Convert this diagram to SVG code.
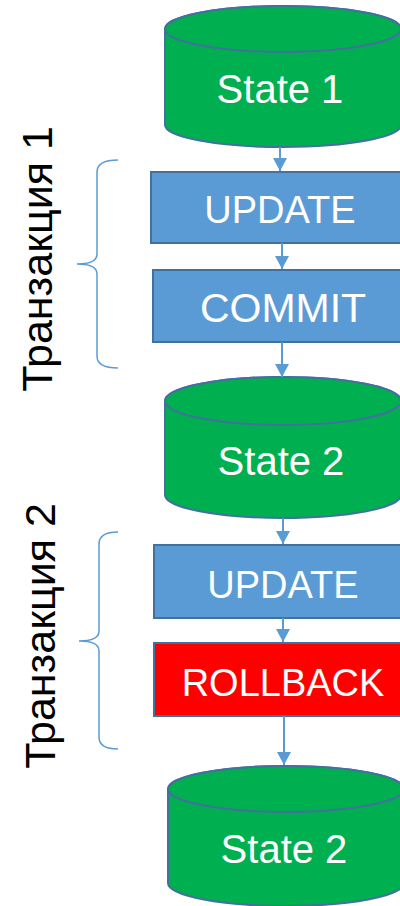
<svg xmlns="http://www.w3.org/2000/svg" width="400" height="906" viewBox="0 0 400 906">
  <style>
    .cyl { fill: #00b050; stroke: #41719c; stroke-width: 2; }
    .box { fill: #5b9bd5; stroke: #41719c; stroke-width: 2; }
    .red { fill: #ff0000; stroke: #41719c; stroke-width: 2; }
    .lbl { font-family: "Liberation Sans", Arial, sans-serif; font-size: 40px; fill: #ffffff; text-anchor: middle; }
    .side { font-family: "Liberation Sans", Arial, sans-serif; font-size: 43px; fill: #000000; text-anchor: middle; }
    .conn { stroke: #5b9bd5; stroke-width: 2; fill: none; }
    .brace { stroke: #5b9bd5; stroke-width: 1.5; fill: none; }
  </style>
  <defs>
    <marker id="arr" markerUnits="userSpaceOnUse" markerWidth="16" markerHeight="16" viewBox="0 0 16 16" refX="13" refY="8" orient="auto">
      <path d="M0,1 L13,8 L0,15 Z" fill="#5b9bd5"/>
    </marker>
  </defs>
  <rect width="400" height="906" fill="#ffffff"/>

  <g id="state1">
    <path class="cyl" d="M165,29 L165,125 A118,22 0 0 0 401,125 L401,29 A118,23 0 0 0 165,29 Z"/>
    <ellipse class="cyl" cx="283" cy="29" rx="118" ry="23"/>
    <text class="lbl" x="280" y="103">State 1</text>
  </g>

  <g id="update1">
    <rect class="box" x="151" y="172" width="252" height="71"/>
    <text class="lbl" x="280" y="223" style="font-size:38px">UPDATE</text>
  </g>

  <g id="commit">
    <rect class="box" x="153" y="270" width="250" height="72"/>
    <text class="lbl" x="283" y="322" style="font-size:41px">COMMIT</text>
  </g>

  <g id="state2">
    <path class="cyl" d="M165,401 L165,495 A118,23 0 0 0 401,495 L401,401 A118,24 0 0 0 165,401 Z"/>
    <ellipse class="cyl" cx="283" cy="401" rx="118" ry="24"/>
    <text class="lbl" x="281" y="475">State 2</text>
  </g>

  <g id="update2">
    <rect class="box" x="154" y="545" width="249" height="73"/>
    <text class="lbl" x="283" y="598" style="font-size:38px">UPDATE</text>
  </g>

  <g id="rollback">
    <rect class="red" x="154" y="643" width="249" height="73"/>
    <text class="lbl" x="283" y="696" style="font-size:38px">ROLLBACK</text>
  </g>

  <g id="state2b">
    <path class="cyl" d="M168,789 L168,883 A118,23 0 0 0 404,883 L404,789 A118,23 0 0 0 168,789 Z"/>
    <ellipse class="cyl" cx="286" cy="789" rx="118" ry="23"/>
    <text class="lbl" x="284" y="863">State 2</text>
  </g>

  <g id="tx1">
    <path class="brace" d="M118,160 Q97,160 97,172 L97,254 Q97,264 77,264 Q97,264 97,274 L97,356 Q97,368 118,368"/>
    <text class="side" transform="translate(52,259) rotate(-90)">Транзакция 1</text>
  </g>

  <g id="tx2">
    <path class="brace" d="M118,532 Q99,532 99,544 L99,631 Q99,641 79,641 Q99,641 99,651 L99,737 Q99,749 118,749"/>
    <text class="side" transform="translate(55,636) rotate(-90)">Транзакция 2</text>
  </g>

  <g id="connectors">
    <line class="conn" x1="280" y1="147" x2="280" y2="171" marker-end="url(#arr)"/>
    <line class="conn" x1="282" y1="243" x2="282" y2="269" marker-end="url(#arr)"/>
    <line class="conn" x1="282" y1="342" x2="282" y2="377" marker-end="url(#arr)"/>
    <line class="conn" x1="283" y1="518" x2="283" y2="544" marker-end="url(#arr)"/>
    <line class="conn" x1="283" y1="618" x2="283" y2="642" marker-end="url(#arr)"/>
    <line class="conn" x1="284" y1="716" x2="284" y2="765" marker-end="url(#arr)"/>
  </g>
</svg>
